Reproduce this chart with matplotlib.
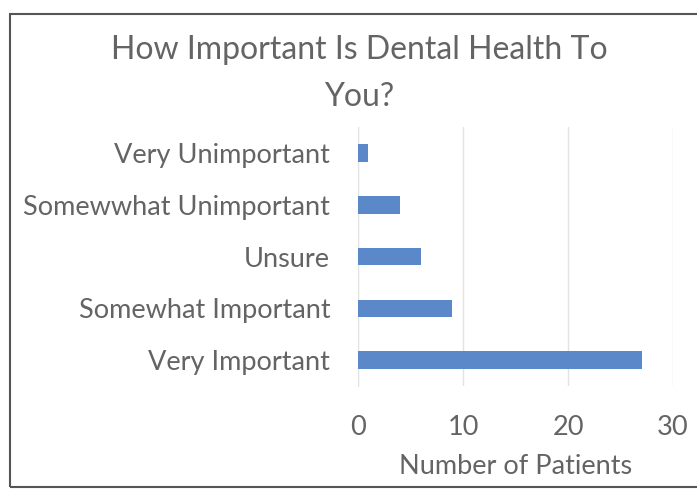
import matplotlib
matplotlib.use("Agg")
import matplotlib.pyplot as plt
from matplotlib.patches import Rectangle

# Données du graphique
categories = ["Very Important", "Somewhat Important", "Unsure",
              "Somewwhat Unimportant", "Very Unimportant"]
patients = [27, 9, 6, 4, 1]
x_ticks = [0, 10, 20, 30]

TEXT = "#646464"
plt.rcParams["font.family"] = ["Lato", "DejaVu Sans"]

fig = plt.figure(figsize=(6.97, 4.91), dpi=100)
ax = fig.add_axes([0.5136, 0.2138, 0.452, 0.5275])

ax.barh(range(len(categories)), patients, height=0.34, color="#5a88c8", zorder=3)

ax.set_yticks(range(len(categories)))
ax.set_yticklabels(categories, fontsize=19.5, color=TEXT)
ax.set_ylim(-0.5, len(categories) - 0.5)
ax.set_xlim(0, 30)
ax.set_xticks(x_ticks)
ax.set_xticklabels([str(t) for t in x_ticks], fontsize=19.5, color=TEXT)
ax.tick_params(axis="both", length=0)
ax.tick_params(axis="y", pad=20)
ax.tick_params(axis="x", pad=21)

ax.grid(axis="x", color="#e3e3e3", linewidth=1, zorder=0)
for s in ["top", "right", "bottom"]:
    ax.spines[s].set_visible(False)
ax.spines["left"].set_color("#e3e3e3")

ax.set_xlabel("Number of Patients", fontsize=19.5, color=TEXT, labelpad=10)

fig.text(0.515, 0.898, "How Important Is Dental Health To", ha="center",
         va="center", fontsize=23, color=TEXT)
fig.text(0.515, 0.803, "You?", ha="center", va="center", fontsize=23, color=TEXT)

# Cadre du graphique
fig.patches.append(Rectangle((10 / 697, 4 / 491), 1.0, 1 - 18 / 491,
                             transform=fig.transFigure, fill=False,
                             edgecolor="#555555", linewidth=1.5))

fig.savefig("out.png", dpi=100)
